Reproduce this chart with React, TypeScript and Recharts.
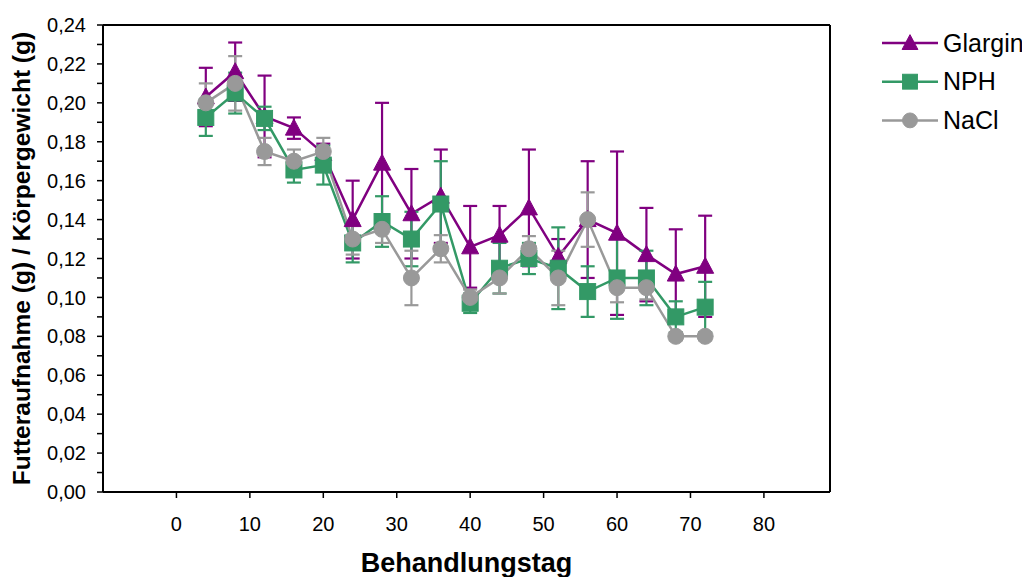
import React from 'react';
import { LineChart, Line, XAxis, YAxis, ErrorBar, Legend, ReferenceLine } from 'recharts';

const days = [4, 8, 12, 16, 20, 24, 28, 32, 36, 40, 44, 48, 52, 56, 60, 64, 68, 72];

const glargin = [0.203, 0.216, 0.193, 0.187, 0.174, 0.140, 0.169, 0.143, 0.152, 0.126, 0.132, 0.146, 0.121, 0.140, 0.133, 0.122, 0.112, 0.116];
const glarginErr = [0.015, 0.015, 0.021, 0.0055, 0.005, 0.020, 0.031, 0.023, 0.024, 0.021, 0.015, 0.030, 0.009, 0.030, 0.042, 0.024, 0.023, 0.026];

const nph = [0.1925, 0.205, 0.192, 0.1655, 0.168, 0.128, 0.139, 0.130, 0.148, 0.097, 0.115, 0.120, 0.115, 0.103, 0.110, 0.110, 0.090, 0.095];
const nphErr = [0.0095, 0.0105, 0.006, 0.0065, 0.010, 0.010, 0.013, 0.014, 0.022, 0.005, 0.013, 0.008, 0.021, 0.013, 0.021, 0.014, 0.008, 0.013];

const nacl = [0.200, 0.210, 0.175, 0.170, 0.175, 0.130, 0.135, 0.110, 0.125, 0.100, 0.110, 0.125, 0.110, 0.140, 0.105, 0.105, 0.080, 0.080];
const naclErr = [0.010, 0.014, 0.007, 0.006, 0.007, 0.008, 0.007, 0.014, 0.007, 0.004, 0.008, 0.0065, 0.014, 0.014, 0.0075, 0.006, 0.002, 0.002];

const xTicks = [0, 10, 20, 30, 40, 50, 60, 70, 80];
const yTicks = [0, 0.01, 0.02, 0.03, 0.04, 0.05, 0.06, 0.07, 0.08, 0.09, 0.1, 0.11, 0.12, 0.13, 0.14, 0.15, 0.16, 0.17, 0.18, 0.19, 0.2, 0.21, 0.22, 0.23, 0.24];

const seriesNames = ['Glargin', 'NPH', 'NaCl'];
const xTitle = 'Behandlungstag';
const yTitle = 'Futteraufnahme (g) / Körpergewicht (g)';

const PURPLE = '#800080';
const GREEN = '#339966';
const GRAY = '#999999';
const FONT = '"Liberation Sans", Arial, sans-serif';

const data = days.map((d, i) => ({
  day: d,
  glargin: glargin[i],
  glarginErr: glarginErr[i],
  nph: nph[i],
  nphErr: nphErr[i],
  nacl: nacl[i],
  naclErr: naclErr[i],
}));

type Shape = 'triangle' | 'square' | 'circle';

const marker = (shape: Shape, cx: number, cy: number, color: string, key?: string, s = 1) => {
  if (shape === 'triangle') {
    return (
      <polygon
        key={key}
        points={`${cx},${cy - 9 * s} ${cx - 8.5 * s},${cy + 7 * s} ${cx + 8.5 * s},${cy + 7 * s}`}
        fill={color}
        stroke={color}
        strokeWidth={1}
      />
    );
  }
  if (shape === 'square') {
    return <rect key={key} x={cx - 8 * s} y={cy - 8 * s} width={16 * s} height={16 * s} fill={color} stroke={color} strokeWidth={1} />;
  }
  return <circle key={key} cx={cx} cy={cy} r={8 * s} fill={color} stroke={color} strokeWidth={1} />;
};

const makeDot = (shape: Shape, color: string) => (props: any) => {
  const { cx, cy, index } = props;
  const k = `${shape}-${index}`;
  if (cx == null || cy == null) return <g key={k} />;
  return marker(shape, cx, cy, color, k);
};

const SERIES: { key: string; name: string; color: string; shape: Shape }[] = [
  { key: 'glargin', name: seriesNames[0], color: PURPLE, shape: 'triangle' },
  { key: 'nph', name: seriesNames[1], color: GREEN, shape: 'square' },
  { key: 'nacl', name: seriesNames[2], color: GRAY, shape: 'circle' },
];

const renderLegend = () => (
  <svg width={160} height={125}>
    {SERIES.map((s, i) => {
      const y = 20 + i * 38.7;
      return (
        <g key={s.key}>
          <line x1={2} x2={58} y1={y} y2={y} stroke={s.color} strokeWidth={2.5} />
          {marker(s.shape, 30, y, s.color, undefined, 0.93)}
          <text x={63} y={y} dy="0.35em" fontSize={25} fontFamily={FONT} fill="#000">
            {s.name}
          </text>
        </g>
      );
    })}
  </svg>
);

const fmtY = (v: number) => {
  const k = Math.round(v * 100);
  return k % 2 === 0 ? (k / 100).toFixed(2).replace('.', ',') : '';
};

const renderYTitle = (p: any) => {
  const vb = p.viewBox || {};
  const x = (vb.x ?? 0) + 13;
  const y = (vb.y ?? 0) + (vb.height ?? 0) / 2;
  return (
    <text
      x={x}
      y={y}
      transform={`rotate(-90, ${x}, ${y})`}
      textAnchor="middle"
      dy="0.35em"
      fontSize={24.5}
      fontWeight="bold"
      fontFamily={FONT}
      fill="#000"
    >
      {yTitle}
    </text>
  );
};

const renderXTitle = (p: any) => {
  const vb = p.viewBox || {};
  const x = (vb.x ?? 0) + (vb.width ?? 0) / 2;
  const y = (vb.y ?? 0) + 80;
  return (
    <text x={x} y={y} textAnchor="middle" fontSize={27} fontWeight="bold" fontFamily={FONT} fill="#000">
      {xTitle}
    </text>
  );
};

export default function App() {
  return (
    <div style={{ width: 1022, height: 569, background: '#fff' }}>
      <LineChart width={1022} height={569} data={data} margin={{ top: 17, right: 200, bottom: 0, left: 0 }}>
        <XAxis
          dataKey="day"
          type="number"
          domain={[-10, 89]}
          ticks={xTicks}
          interval={0}
          height={85}
          tickSize={6}
          tickMargin={19}
          axisLine={{ stroke: '#000', strokeWidth: 2 }}
          tickLine={{ stroke: '#000', strokeWidth: 1.5 }}
          tick={{ fontSize: 20, fill: '#000', fontFamily: FONT }}
          label={renderXTitle}
        />
        <YAxis
          type="number"
          domain={[0, 0.24]}
          ticks={yTicks}
          interval={0}
          width={95}
          tickSize={6}
          tickMargin={11}
          tickFormatter={fmtY}
          axisLine={{ stroke: '#000', strokeWidth: 2 }}
          tickLine={{ stroke: '#000', strokeWidth: 1.5 }}
          tick={{ fontSize: 20, fill: '#000', fontFamily: FONT }}
          label={renderYTitle}
        />
        <ReferenceLine y={0.24} stroke="#000" strokeWidth={2} />
        <ReferenceLine x={89} stroke="#000" strokeWidth={2} />
        {SERIES.map((s) => (
          <Line
            key={s.key}
            dataKey={s.key}
            name={s.name}
            stroke={s.color}
            strokeWidth={2.5}
            dot={makeDot(s.shape, s.color)}
            activeDot={false}
            isAnimationActive={false}
          >
            <ErrorBar dataKey={`${s.key}Err`} direction="y" width={7} strokeWidth={2.2} stroke={s.color} isAnimationActive={false} />
          </Line>
        ))}
        <Legend
          layout="vertical"
          align="center"
          verticalAlign="middle"
          content={renderLegend}
          wrapperStyle={{ position: 'absolute', left: 872, top: 15, width: 160, height: 125 }}
        />
      </LineChart>
    </div>
  );
}
